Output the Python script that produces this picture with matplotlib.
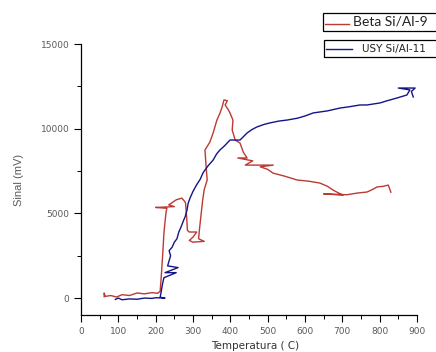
import matplotlib
matplotlib.use("Agg")
import matplotlib.pyplot as plt
from matplotlib.ticker import MultipleLocator
from matplotlib.patches import Rectangle
from matplotlib.lines import Line2D

# Beta Si/Al-9
beta_temp = [62, 62, 65, 80, 95, 110, 130, 150, 170, 190, 205, 212,
             214, 216, 218, 220, 222, 225, 228, 230, 200, 250, 235, 255, 270, 278,
             280, 283, 285, 290, 310, 300, 290, 300, 330, 315, 318, 322, 326, 330,
             338, 335, 332, 345, 354, 364, 372, 378, 383, 392, 386, 395, 399, 407,
             405, 413, 426, 435, 445, 420, 460, 440, 515, 480, 500, 514, 545, 579,
             610, 640, 660, 675, 690, 702, 650, 712, 740, 766, 780, 793, 810, 823,
             826, 830]
beta_signal = [80, 300, 100, 150, 60, 200, 150, 300, 250, 320, 280, 400,
               1000, 1600, 2300, 3000, 3800, 4500, 5100, 5300, 5350, 5400, 5500, 5800, 5900, 5700,
               5600, 4800, 4000, 3900, 3900, 3600, 3400, 3300, 3350, 3500, 4200, 5000, 5800, 6400,
               6970, 7800, 8740, 9200, 9750, 10510, 10900, 11280, 11700, 11650, 11400, 11100, 10930, 10510,
               9920, 9330, 9150, 8600, 8270, 8270, 8100, 7850, 7850, 7750, 7600, 7380, 7200, 6970,
               6900, 6790, 6600, 6380, 6200, 6080, 6150, 6100, 6200, 6260, 6400, 6560, 6600, 6670,
               6500, 6250]

# USY Si/Al-11
usy_temp = [92, 100, 110, 130, 150, 170, 190, 200, 225, 212, 215, 218, 222,
            255, 225, 260, 232, 240, 236, 244, 250, 257, 262, 268, 275, 279, 284,
            287, 292, 300, 310, 319, 327, 340, 354, 363, 372, 385, 399, 426, 445,
            458, 471, 490, 506, 530, 552, 580, 600, 622, 660, 694, 720, 747, 766,
            801, 820, 846, 873, 881, 850, 895, 885, 890]
usy_signal = [-80, 0, -100, -50, -70, 0, -20, 20, 0, 50, 400, 800, 1200,
              1500, 1500, 1800, 1900, 2500, 2800, 3000, 3300, 3500, 3900, 4200, 4600, 4800, 5200,
              5600, 5900, 6300, 6700, 7000, 7400, 7800, 8150, 8500, 8740, 9000, 9330, 9330, 9750,
              9950, 10100, 10250, 10340, 10450, 10510, 10620, 10750, 10930, 11050, 11220, 11300, 11400, 11400,
              11520, 11650, 11810, 11990, 12290, 12400, 12400, 12200, 11870]

red = "#bb3a34"
navy = "#14148a"
gray = "#5a5a5a"

fig = plt.figure(figsize=(4.36, 3.52), dpi=100)
ax = fig.add_axes([0.1858, 0.1051, 0.7706, 0.7699])

ax.plot(beta_temp, beta_signal, color=red, lw=1.0)
ax.plot(usy_temp, usy_signal, color=navy, lw=1.0)

ax.set_xlim(0, 900)
ax.set_ylim(-1000, 15000)
ax.set_yticks([0, 5000, 10000, 15000])
ax.set_xticks(range(0, 901, 100))
ax.xaxis.set_minor_locator(MultipleLocator(50))
ax.yaxis.set_minor_locator(MultipleLocator(2500))
for s in ["top", "right"]:
    ax.spines[s].set_visible(False)
for s in ["left", "bottom"]:
    ax.spines[s].set_linewidth(0.9)
ax.tick_params(which="major", direction="out", length=5, width=0.8,
               labelsize=6.5, labelcolor=gray)
ax.tick_params(which="minor", direction="out", length=3, width=0.7)

ax.set_ylabel("Sinal (mV)", fontsize=8, color=gray, family="Liberation Sans",
              labelpad=12)
fig.text(0.585, 0.004, "Temperatura ( C)", fontsize=7.5, color="#333333",
         family="DejaVu Sans", ha="center", va="bottom")

# legend boxes (as in the reference, two separate boxes clipped at the right)
fig.add_artist(Rectangle((323 / 436, 1 - 31 / 352), 0.3, 18 / 352,
                         transform=fig.transFigure, fill=False, ec="black", lw=0.9))
fig.add_artist(Line2D([325 / 436, 349 / 436], [1 - 24 / 352] * 2,
                      transform=fig.transFigure, color=red, lw=1.0))
fig.text(353 / 436, 1 - 22 / 352, "Beta Si/Al-9", fontsize=10, family="Lato",
         color="#222222", ha="left", va="center")

fig.add_artist(Rectangle((324 / 436, 1 - 57 / 352), 0.3, 17 / 352,
                         transform=fig.transFigure, fill=False, ec="black", lw=0.9))
fig.add_artist(Line2D([326 / 436, 352 / 436], [1 - 49 / 352] * 2,
                      transform=fig.transFigure, color=navy, lw=1.0))
fig.text(362 / 436, 1 - 49 / 352, "USY Si/Al-11", fontsize=7.5, family="DejaVu Sans",
         color="#222222", ha="left", va="center")

fig.savefig("out.png", dpi=100)
